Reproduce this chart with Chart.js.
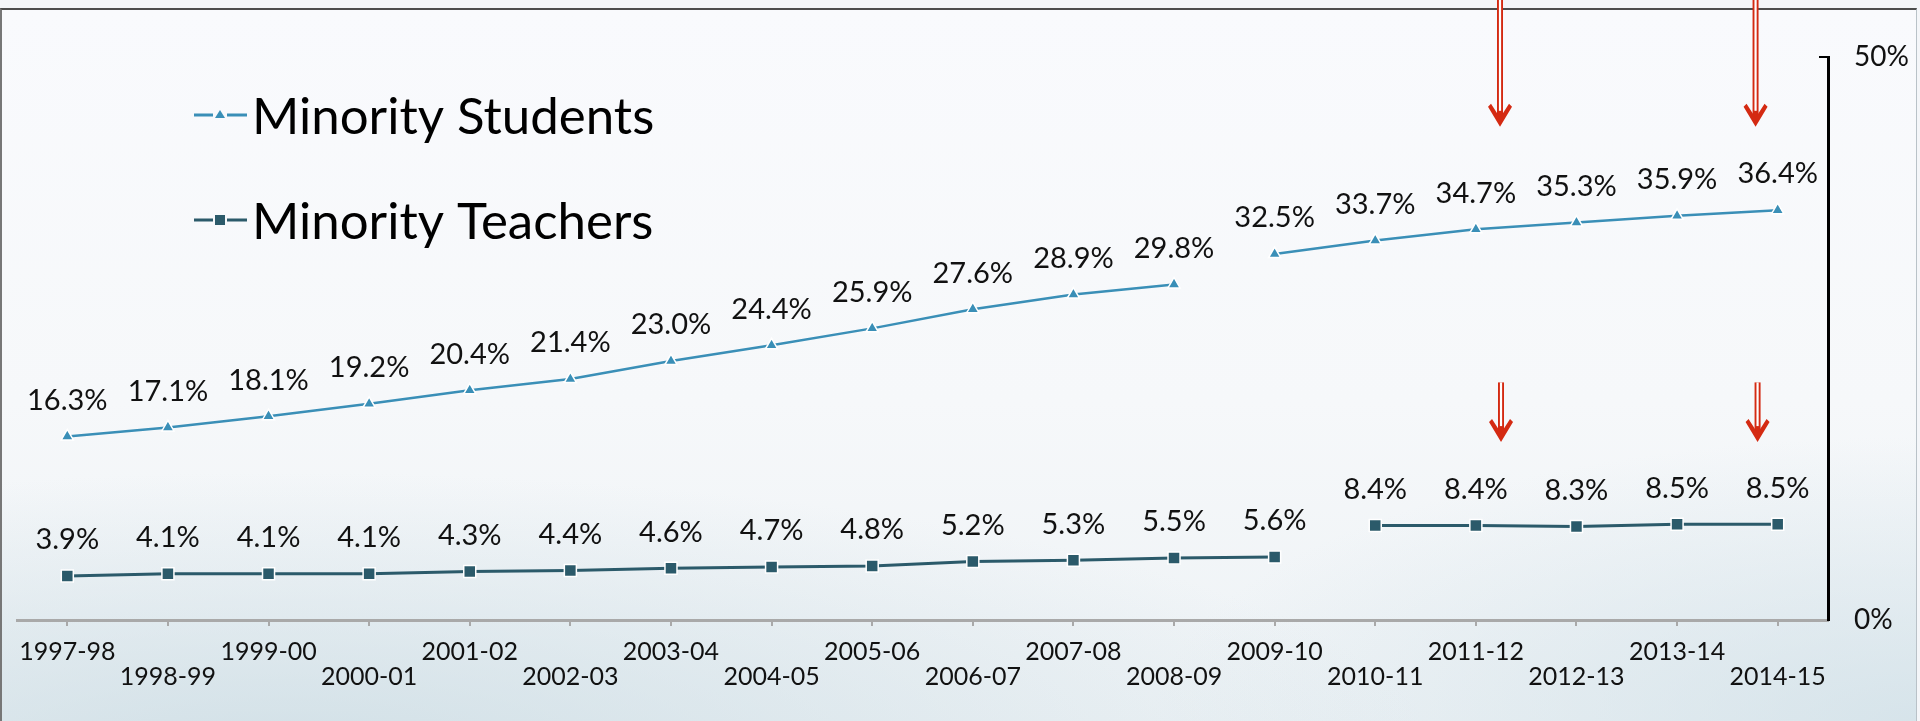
<!DOCTYPE html>
<html>
<head>
<meta charset="utf-8">
<script src="https://cdn.jsdelivr.net/npm/chart.js@4.4.1/dist/chart.umd.min.js"></script>
<style>
  html, body { margin: 0; padding: 0; }
  body { width: 1920px; height: 721px; overflow: hidden; background: #f4f6f9; }
  #frame {
    position: absolute; left: 0; top: 8px; width: 1917px; height: 713px;
    border-top: 2px solid #4d4d4d; border-left: 2px solid #777; border-right: 1px solid #b9c2c8;
    box-sizing: border-box;
    background:
      radial-gradient(ellipse 60% 40% at 15% 105%, rgba(200,218,226,0.75), rgba(200,218,226,0) 100%),
      radial-gradient(ellipse 40% 40% at 100% 100%, rgba(205,222,230,0.7), rgba(205,222,230,0) 100%),
      linear-gradient(to bottom, #f9fafd 0%, #f6f8fa 55%, #edf2f5 100%);
  }
  #wrap { position: absolute; left: 0; top: 0; width: 1920px; height: 721px; }
</style>
</head>
<body>
<div id="frame"></div>
<div id="wrap"><canvas id="c" width="1920" height="721"></canvas></div>
<script>
// ---- data ----
const categories = ['1997-98','1998-99','1999-00','2000-01','2001-02','2002-03','2003-04','2004-05','2005-06','2006-07','2007-08','2008-09','2009-10','2010-11','2011-12','2012-13','2013-14','2014-15'];
const minorityStudents = [16.3,17.1,18.1,19.2,20.4,21.4,23.0,24.4,25.9,27.6,28.9,29.8,32.5,33.7,34.7,35.3,35.9,36.4];
const minorityTeachers = [3.9,4.1,4.1,4.1,4.3,4.4,4.6,4.7,4.8,5.2,5.3,5.5,5.6,8.4,8.4,8.3,8.5,8.5];
const yTickValues = [0, 50];
const studentsBreakAfter = '2008-09';
const teachersBreakAfter = '2009-10';

// ---- styles / annotations ----
const STUDENT_COLOR = '#3a8fb7';
const TEACHER_COLOR = '#2b5a6a';
const FONT = 'Lato, "Liberation Sans", sans-serif';
const arrowMarks = [
  { x: 14.24, fromTop: true, tip: 43.8 },
  { x: 16.78, fromTop: true, tip: 43.8 },
  { x: 14.25, from: 21.1, tip: 15.8 },
  { x: 16.80, from: 21.1, tip: 15.8 }
];

function gapSegment(color, breakLabel) {
  const idx = categories.indexOf(breakLabel);
  return { borderColor: ctx => ctx.p0DataIndex === idx ? 'rgba(0,0,0,0)' : color };
}

const dataLabelPlugin = {
  id: 'dataLabels',
  afterDatasetsDraw(chart) {
    const ctx = chart.ctx;
    ctx.save();
    ctx.font = '29px ' + FONT;
    ctx.fillStyle = '#111';
    ctx.textAlign = 'center';
    ctx.textBaseline = 'middle';
    chart.data.datasets.forEach((ds, di) => {
      const meta = chart.getDatasetMeta(di);
      meta.data.forEach((pt, i) => {
        ctx.fillText(ds.data[i].toFixed(1) + '%', pt.x, pt.y - 36);
      });
    });
    ctx.restore();
  }
};

const legendPlugin = {
  id: 'customLegend',
  afterDraw(chart) {
    const ctx = chart.ctx;
    ctx.save();
    const rows = [134, 239];
    chart.data.datasets.forEach((ds, i) => {
      const base = rows[i];
      const cy = base - 19;
      ctx.strokeStyle = ds.borderColor;
      ctx.lineWidth = 3;
      ctx.beginPath();
      ctx.moveTo(194, cy); ctx.lineTo(213, cy);
      ctx.moveTo(227, cy); ctx.lineTo(247, cy);
      ctx.stroke();
      ctx.fillStyle = ds.pointBackgroundColor;
      if (ds.pointStyle === 'triangle') {
        ctx.beginPath();
        ctx.moveTo(220, cy - 5); ctx.lineTo(225, cy + 3); ctx.lineTo(215, cy + 3); ctx.closePath();
        ctx.fill();
      } else {
        ctx.fillRect(215, cy - 5, 10, 10);
      }
      ctx.fillStyle = '#000';
      ctx.font = '51px ' + FONT;
      ctx.textAlign = 'left';
      ctx.textBaseline = 'alphabetic';
      ctx.fillText(ds.label, 252, base);
    });
    ctx.restore();
  }
};

const arrowPlugin = {
  id: 'redArrows',
  afterDraw(chart) {
    const ctx = chart.ctx;
    const xs = chart.scales.x, ys = chart.scales.y;
    ctx.save();
    arrowMarks.forEach(a => {
      const x = xs.getPixelForValue(a.x);
      const y0 = a.fromTop ? 0 : ys.getPixelForValue(a.from);
      const yt = ys.getPixelForValue(a.tip);
      ctx.lineCap = 'butt';
      ctx.strokeStyle = '#d42a12';
      ctx.lineWidth = 6;
      ctx.beginPath(); ctx.moveTo(x, y0); ctx.lineTo(x, yt - 8); ctx.stroke();
      ctx.strokeStyle = '#ffffff';
      ctx.lineWidth = 2.2;
      ctx.beginPath(); ctx.moveTo(x, y0); ctx.lineTo(x, yt - 16); ctx.stroke();
      ctx.fillStyle = '#d42a12';
      ctx.beginPath();
      ctx.moveTo(x, yt);
      ctx.lineTo(x - 12, yt - 20);
      ctx.lineTo(x - 9, yt - 23);
      ctx.lineTo(x, yt - 9);
      ctx.lineTo(x + 9, yt - 23);
      ctx.lineTo(x + 12, yt - 20);
      ctx.closePath();
      ctx.fill();
    });
    ctx.restore();
  }
};

const yInnerTickPlugin = {
  id: 'yInnerTick',
  afterDraw(chart) {
    const ctx = chart.ctx;
    const ys = chart.scales.y;
    ctx.save();
    ctx.strokeStyle = '#000';
    ctx.lineWidth = 2;
    const y = ys.getPixelForValue(yTickValues[1]);
    ctx.beginPath(); ctx.moveTo(ys.left - 9, y); ctx.lineTo(ys.left, y); ctx.stroke();
    ctx.restore();
  }
};

new Chart(document.getElementById('c'), {
  type: 'line',
  data: {
    labels: categories,
    datasets: [
      {
        label: 'Minority Students',
        data: minorityStudents,
        borderColor: STUDENT_COLOR,
        borderWidth: 2.5,
        pointStyle: 'triangle',
        pointRadius: 7,
        pointBackgroundColor: STUDENT_COLOR,
        pointBorderColor: '#ffffff',
        pointBorderWidth: 1.5,
        tension: 0,
        segment: gapSegment(STUDENT_COLOR, studentsBreakAfter)
      },
      {
        label: 'Minority Teachers',
        data: minorityTeachers,
        borderColor: TEACHER_COLOR,
        borderWidth: 3,
        pointStyle: 'rect',
        pointRadius: 8.5,
        pointBackgroundColor: TEACHER_COLOR,
        pointBorderColor: '#ffffff',
        pointBorderWidth: 1.5,
        tension: 0,
        segment: gapSegment(TEACHER_COLOR, teachersBreakAfter)
      }
    ]
  },
  options: {
    responsive: false,
    animation: false,
    events: [],
    layout: { padding: { left: 17, top: 57, right: 0, bottom: 0 } },
    plugins: { legend: { display: false }, tooltip: { enabled: false } },
    scales: {
      x: {
        offset: true,
        grid: { drawOnChartArea: false, drawTicks: true, tickLength: 6, color: '#a9a9a9', lineWidth: 2 },
        border: { display: true, color: '#a9a9a9', width: 3 },
        ticks: {
          autoSkip: false, maxRotation: 0, minRotation: 0, padding: 13,
          color: '#111',
          font: { family: FONT, size: 25, lineHeight: 1.0 },
          callback: (v, i) => i % 2 ? ['', categories[i]] : categories[i]
        },
        afterFit: s => { s.height = 101; }
      },
      y: {
        position: 'right',
        min: 0, max: 50,
        afterBuildTicks: s => { s.ticks = yTickValues.map(v => ({ value: v })); },
        grid: { display: true, drawOnChartArea: false, drawTicks: false },
        border: { display: true, color: '#000', width: 3 },
        ticks: {
          padding: 26, color: '#111',
          font: { family: FONT, size: 28 },
          callback: v => v + '%'
        },
        afterFit: s => { s.width = 92; }
      }
    }
  },
  plugins: [dataLabelPlugin, legendPlugin, arrowPlugin, yInnerTickPlugin]
});
</script>
</body>
</html>
